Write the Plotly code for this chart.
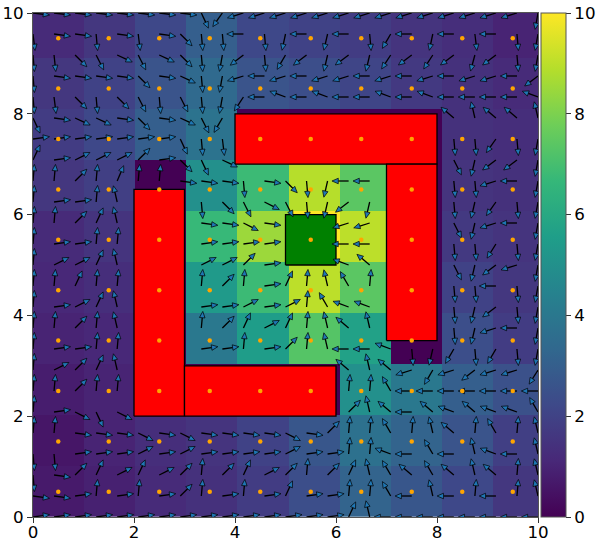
import numpy as np
import plotly.graph_objects as go

N = None

# heat values, top row (y 9-10) first
heat_rows = [
    [1.2, 1.6, 2.2, 3.0, 2.2, 2.0, 1.8, 1.5, 1.3, 1.0],
    [1.6, 2.0, 2.6, 3.4, 2.6, 2.4, 2.1, 1.7, 1.4, 1.2],
    [1.8, 2.2, 3.0, 3.8, 0.0, 0.0, 0.0, 0.0, 1.4, 1.3],
    [1.6, 1.9, 0.0, 5.0, 6.8, 8.9, 7.4, 0.0, 1.5, 1.4],
    [1.2, 1.5, 0.0, 6.7, 8.5, 10.0, 9.0, 0.0, 1.7, 1.5],
    [1.1, 1.3, 0.0, 5.4, 6.8, 9.0, 7.4, 0.0, 2.0, 1.6],
    [1.0, 1.1, 0.0, 4.0, 5.5, 7.3, 5.7, 0.0, 2.4, 1.8],
    [0.8, 1.0, 0.0, 0.0, 0.0, 0.0, 5.0, 4.0, 3.0, 2.5],
    [0.6, 1.0, 1.3, 1.5, 2.0, 2.7, 3.7, 3.2, 2.6, 1.9],
    [0.7, 0.9, 1.2, 1.4, 1.8, 2.4, 3.2, 2.7, 2.2, 1.6],
]
cell_size = 1.0125

# arrow directions in degrees, top row (y=10) first, None where no arrow
angle_rows = [
    [-7, -7, -7, -7, -7, -7, -7, -7, -65, -125, 197, 197, 197, 197, 197, 197, 197, 197, 197, 197, 197, 197, 197, 197, -100],
    [-83, -8, -8, -85, -8, -83, -8, -45, -85, -85, 180, -85, -102, 180, -103, 180, -85, -120, 180, -102, 180, -83, 180, -85, -100],
    [-85, -84, -45, -63, -25, -63, -25, -45, -85, -100, 218, -85, -120, 218, -103, 217, -103, -123, 217, -123, 217, -105, 217, -85, -100],
    [-85, -8, -8, -8, -8, -45, -8, -25, -85, -100, 197, 180, 197, 180, 197, 197, 180, 197, 180, 197, 180, 197, 197, 180, 217],
    [-85, -83, -45, -85, -45, -63, -85, -63, -85, -100, -123, 180, 160, 180, 160, 180, 180, 160, 180, 160, 180, 180, 180, 180, 160],
    [-65, -8, -25, -25, -8, -45, -8, -25, -63, -120, N, N, N, N, N, N, N, N, N, N, 140, 103, 140, 140, 103],
    [8, 8, 8, 8, 8, 8, 8, -65, -85, -83, N, N, N, N, N, N, N, N, N, N, -85, -85, -125, -85, -100],
    [65, 8, 27, 27, 27, 45, 8, -45, -65, -25, N, N, N, N, N, N, N, N, N, N, -63, -103, 217, 217, -100],
    [85, 85, 45, 85, 67, 85, 85, -8, -8, -8, -85, -8, -45, -85, -103, 180, 180, N, N, N, -85, -85, 197, 180, -100],
    [85, 8, 8, 85, 103, N, N, N, -85, -45, -63, -27, -63, -85, -103, 218, -103, N, N, N, -85, -103, -125, -85, -100],
    [85, 85, 45, 65, 103, N, N, N, -8, -8, -27, -8, N, N, N, 197, 197, N, N, N, -63, -103, 197, 180, -100],
    [85, 8, 8, 85, 85, N, N, N, 8, 8, 8, 8, N, N, N, 180, 180, N, N, N, -85, -85, -122, -85, -100],
    [85, 27, 27, 65, 103, N, N, N, 27, 27, 45, 8, N, N, N, 160, 140, N, N, N, -63, -103, 217, 197, -100],
    [85, 85, 65, 85, 85, N, N, N, 85, 45, 85, 8, 65, 85, 103, 120, 85, N, N, N, -85, -85, 180, -85, -100],
    [85, 8, 27, 65, 103, N, N, N, 8, 8, 27, 8, 27, 85, 120, 160, 160, N, N, N, -85, -103, 217, -85, -100],
    [85, 85, 45, 85, 103, N, N, N, 85, 45, 65, 27, 65, 85, 103, 140, 103, N, N, N, -85, -103, 197, 180, -100],
    [85, 8, 8, 85, 85, N, N, N, 8, 8, 85, 8, 45, 85, 103, 180, 180, 160, -85, -103, -120, -85, -120, -85, -100],
    [85, 27, 45, 65, 103, N, N, N, N, N, N, N, N, N, N, 140, 103, 140, 197, -120, 197, 218, 197, 197, -122],
    [85, 85, 45, 85, 85, N, N, N, N, N, N, N, N, N, N, 85, 85, 120, 180, 180, 180, 180, 180, 180, 180],
    [85, 8, -27, -65, -27, N, N, N, N, N, N, N, N, N, N, 45, 103, 140, 180, 140, 160, 140, 160, 160, 120],
    [85, 85, -8, -8, -8, -27, -8, -27, -8, -8, -8, -8, -27, -8, 45, 85, 85, 120, 85, 103, 140, 85, 120, 85, 103],
    [-85, -85, 8, 8, 8, 27, 8, 27, 8, 8, 8, 8, 27, 8, 8, 85, 85, 160, 180, 120, 180, 103, 160, 180, 103],
    [-85, -8, 45, 65, 27, 65, 27, 45, 85, 45, 65, 27, 45, 85, 45, 65, 103, 120, 140, 120, 140, 103, 140, 85, 103],
    [-8, -8, 8, 85, 8, 85, 8, 45, 85, 8, 85, 8, 65, 8, 8, 85, 85, 120, 180, 103, 180, 85, 180, 85, 103],
    [8, 8, 8, 8, 8, 8, 8, 8, 8, 8, 8, 8, 8, 8, 8, 65, 103, 180, 180, 180, 180, 180, 180, 180, 180],
]

# obstacles as x0, x1, y0, y1
walls = [(4, 8, 7, 8), (7, 8, 3.5, 7), (2, 3, 2, 6.5), (3, 6, 2, 3)]
goal = (5, 6, 5, 6)
dot_positions = [0.5, 1.5, 2.5, 3.5, 4.5, 5.5, 6.5, 7.5, 8.5, 9.5]

arrow_len = 0.33
head_len = 0.125
head_half_width = 0.055


def rect_trace(box, color):
    x0, x1, y0, y1 = box
    return go.Scatter(x=[x0, x1, x1, x0, x0], y=[y0, y0, y1, y1, y0], mode="lines",
                      fill="toself", fillcolor=color, line=dict(color="black", width=1.3),
                      hoverinfo="skip", showlegend=False)


fig = go.Figure()

z = np.array(heat_rows)[::-1]
centers = (np.arange(10) + 0.5) * cell_size
fig.add_trace(go.Heatmap(x=centers, y=centers, z=z, colorscale="Viridis", zmin=0, zmax=10,
                         colorbar=dict(x=1.0069, xanchor="left", y=0, yanchor="bottom", len=1, ypad=0, xpad=0,
                                       thickness=25, tickvals=[0, 2, 4, 6, 8, 10], ticks="outside", ticklen=5,
                                       tickwidth=1, tickcolor="#333", outlinecolor="#555", outlinewidth=1,
                                       tickfont=dict(size=16.7, color="black"))))

for box in walls:
    fig.add_trace(rect_trace(box, "red"))
fig.add_trace(rect_trace(goal, "green"))

# arrows: shaft segments plus one filled triangle per head
grid = np.linspace(0, 10, 25)
shaft_x, shaft_y, head_x, head_y = [], [], [], []
for r, row in enumerate(angle_rows):
    for c, ang in enumerate(row):
        if ang is None:
            continue
        t = np.radians(ang)
        x0, y0 = grid[c], grid[24 - r]
        ux, uy = np.cos(t), np.sin(t)
        tip_x, tip_y = x0 + arrow_len * ux, y0 + arrow_len * uy
        base_x, base_y = tip_x - head_len * ux, tip_y - head_len * uy
        shaft_x += [x0, base_x, None]
        shaft_y += [y0, base_y, None]
        head_x += [tip_x, base_x - head_half_width * uy, base_x + head_half_width * uy, tip_x, None]
        head_y += [tip_y, base_y + head_half_width * ux, base_y - head_half_width * ux, tip_y, None]

fig.add_trace(go.Scatter(x=shaft_x, y=shaft_y, mode="lines", line=dict(color="black", width=1.3),
                         hoverinfo="skip", showlegend=False))
fig.add_trace(go.Scatter(x=head_x, y=head_y, mode="lines", fill="toself", fillcolor="#1f77b4",
                         line=dict(color="black", width=0.7), hoverinfo="skip", showlegend=False))

dot_x = [x for y in dot_positions for x in dot_positions]
dot_y = [y for y in dot_positions for x in dot_positions]
fig.add_trace(go.Scatter(x=dot_x, y=dot_y, mode="markers", marker=dict(color="orange", size=4.5),
                         hoverinfo="skip", showlegend=False))

axis = dict(range=[0, 10], tickvals=[0, 2, 4, 6, 8, 10], ticks="outside", ticklen=5, tickwidth=1, tickcolor="#333",
            showgrid=False, zeroline=False, showline=True, mirror=True, linecolor="#555", linewidth=1,
            tickfont=dict(size=16.7, color="black"))
fig.update_xaxes(**axis, ticklabelstandoff=-5)
fig.update_yaxes(**axis)
fig.update_layout(width=600, height=546, margin=dict(l=33, r=61.5, t=13, b=29, autoexpand=False), showlegend=False,
                  paper_bgcolor="white", plot_bgcolor="white", font=dict(family="DejaVu Sans", color="black"))

fig.write_html("out.html", config=dict(displayModeBar=False), post_script="document.body.style.margin='0';")
